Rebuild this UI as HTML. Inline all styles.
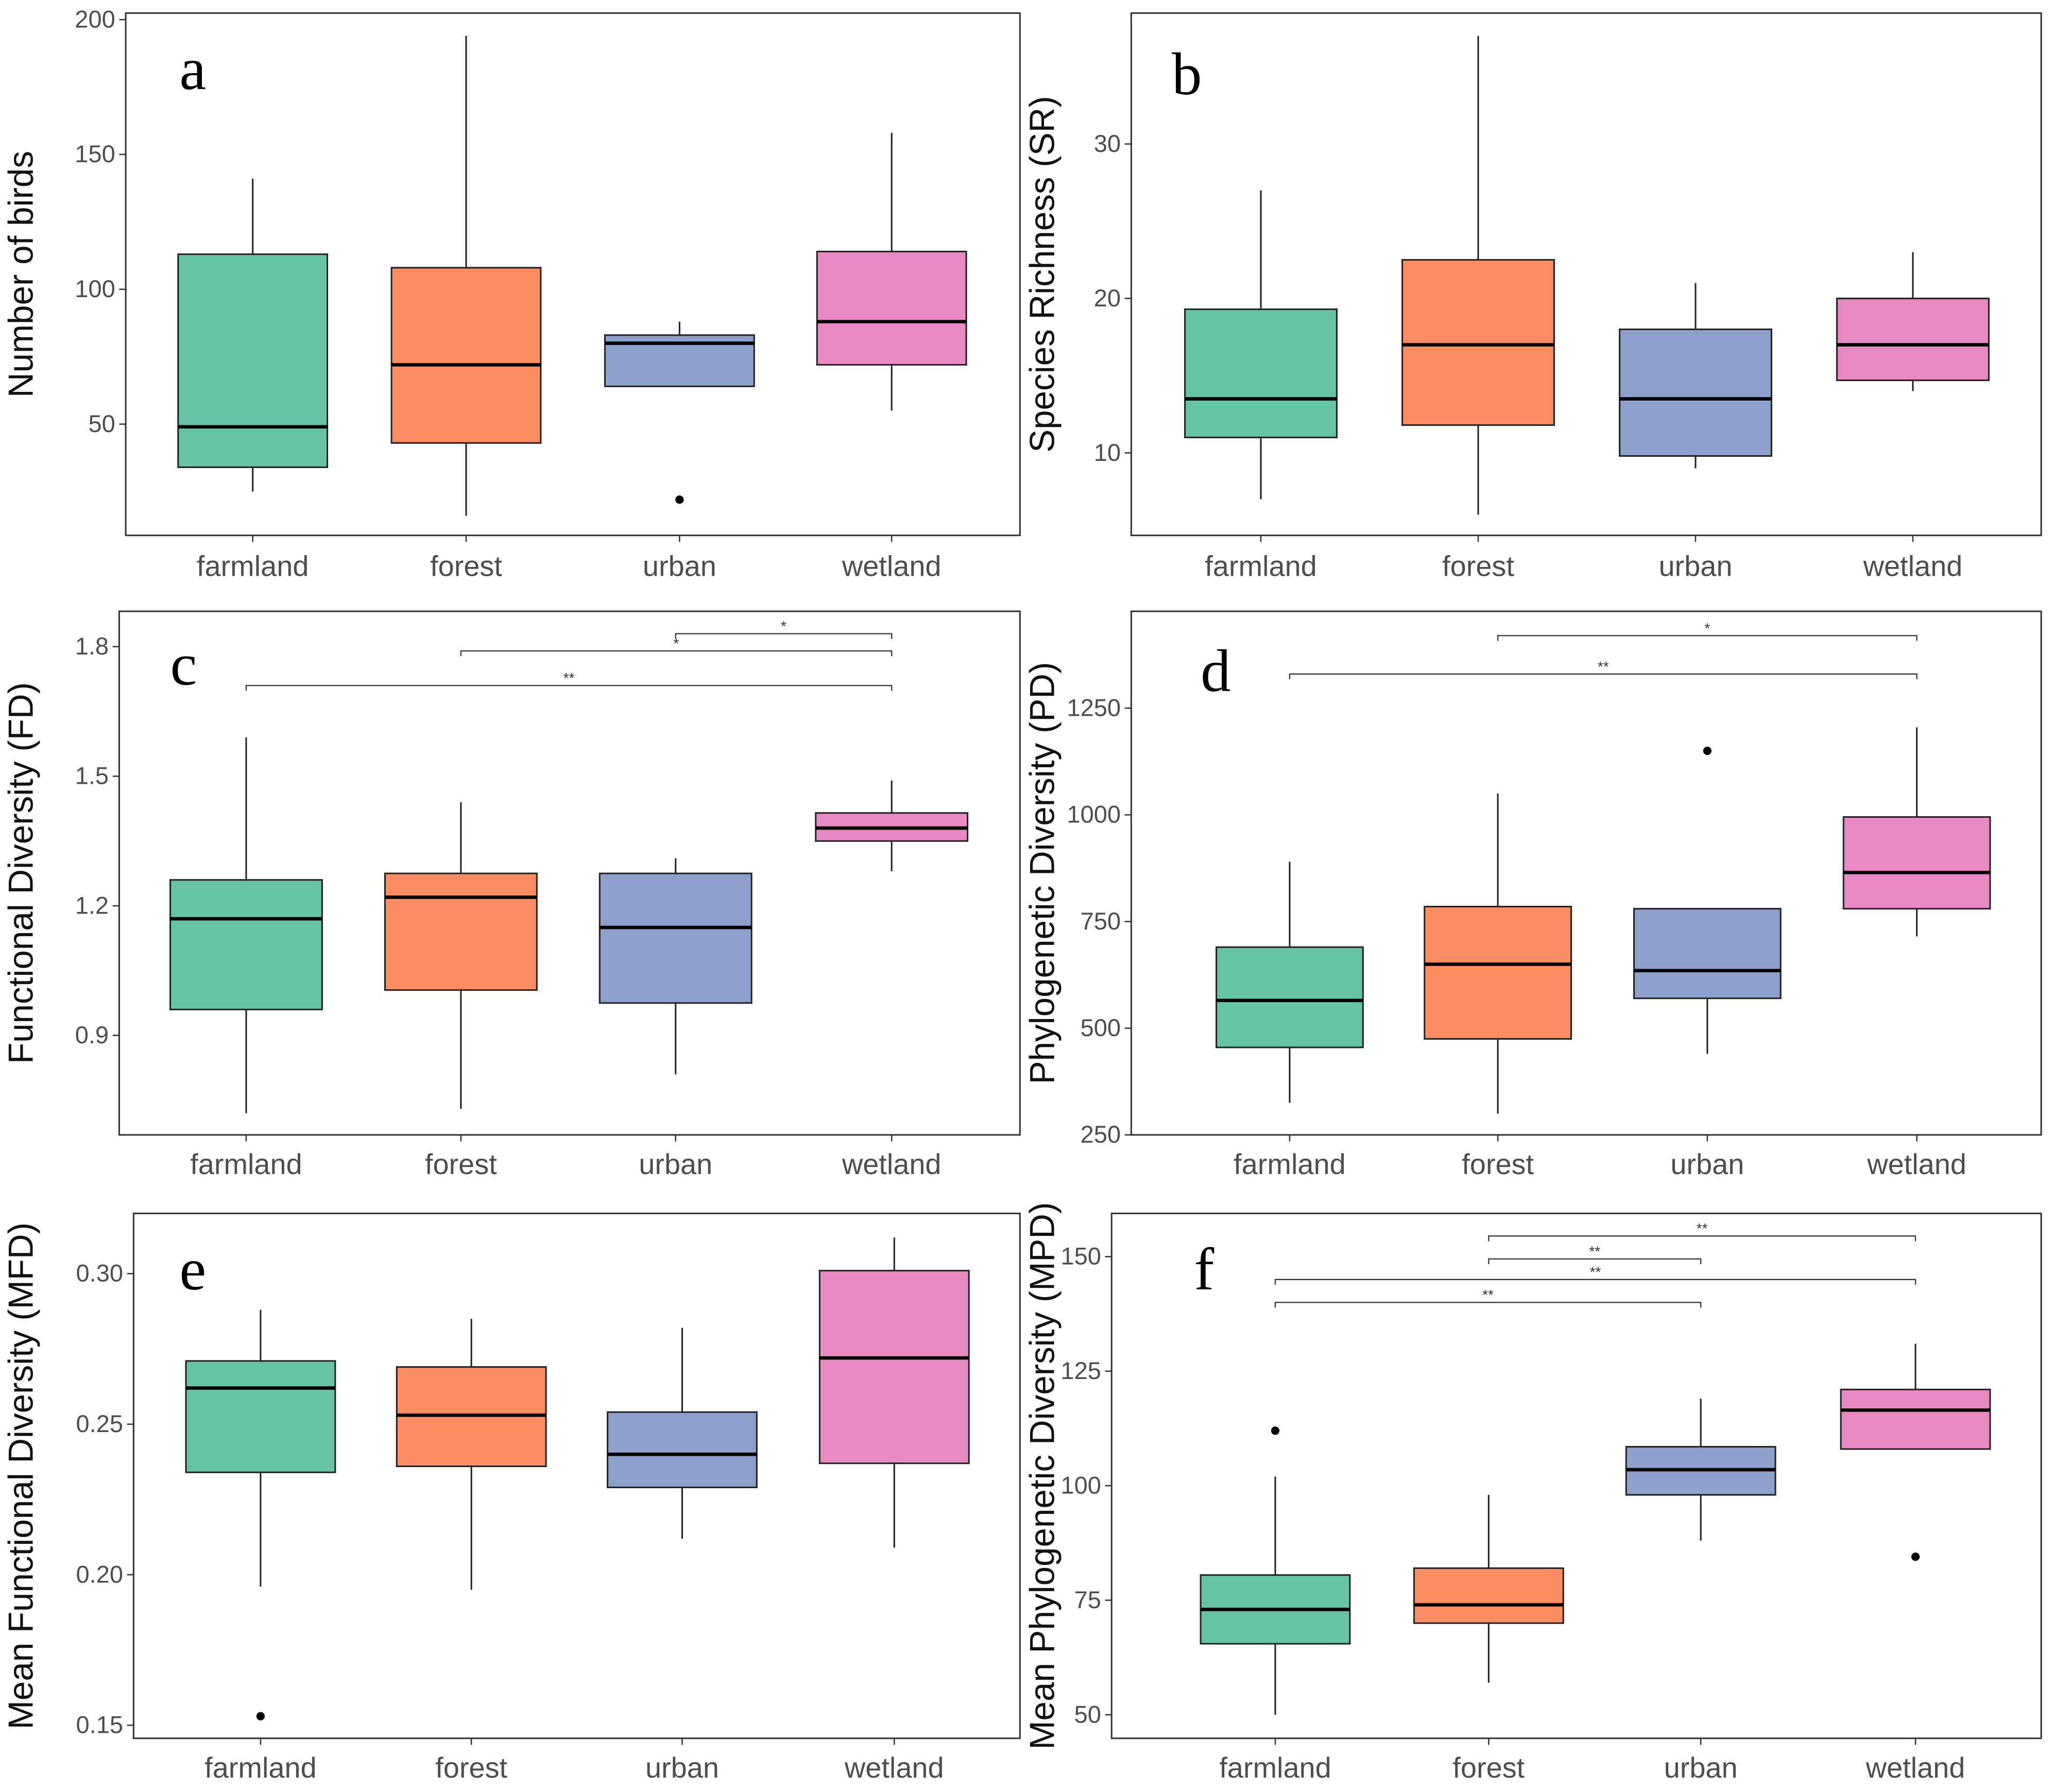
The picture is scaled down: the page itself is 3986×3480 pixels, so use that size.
<!DOCTYPE html>
<html><head><meta charset="utf-8">
<style>
html,body{margin:0;padding:0;background:#fff;}
svg{display:block;}
text{font-family:"Liberation Sans",sans-serif;}
</style></head>
<body>
<svg id="chart" width="3986" height="3480" viewBox="0 0 1568 1369" xmlns="http://www.w3.org/2000/svg"></svg>
<script>
const categories = ["farmland","forest","urban","wetland"];
const colors = ["#66c2a5","#fc8d62","#8da0cb","#e78ac3"];
// each stat: [low whisker, Q1, median, Q3, high whisker]
const statsA = [[25,34,49,113,141],[16,43,72,108,194],[64,64,80,83,88],[55,72,88,114,158]];
const outliersA = [[],[],[22],[]];
const ticksA = [50,100,150,200];
const statsB = [[7,11,13.5,19.3,27],[6,11.8,17,22.5,37],[9,9.8,13.5,18,21],[14,14.7,17,20,23]];
const outliersB = [[],[],[],[]];
const ticksB = [10,20,30];
const statsC = [[0.72,0.96,1.17,1.26,1.59],[0.73,1.005,1.22,1.275,1.44],[0.81,0.975,1.15,1.275,1.31],[1.28,1.35,1.38,1.415,1.49]];
const outliersC = [[],[],[],[]];
const ticksC = [0.9,1.2,1.5,1.8];
const tickLabelsC = ["0.9","1.2","1.5","1.8"];
const sigC = [[0,3,1.71,"**"],[1,3,1.79,"*"],[2,3,1.83,"*"]];
const statsD = [[325,455,565,690,890],[300,475,650,785,1050],[440,570,635,780,780],[715,780,865,995,1205]];
const outliersD = [[],[],[1150],[]];
const ticksD = [250,500,750,1000,1250];
const sigD = [[0,3,1330,"**"],[1,3,1420,"*"]];
const statsE = [[0.196,0.234,0.262,0.271,0.288],[0.195,0.236,0.253,0.269,0.285],[0.212,0.229,0.240,0.254,0.282],[0.209,0.237,0.272,0.301,0.312]];
const outliersE = [[0.153],[],[],[]];
const ticksE = [0.15,0.20,0.25,0.30];
const tickLabelsE = ["0.15","0.20","0.25","0.30"];
const statsF = [[50,65.5,73,80.5,102],[57,70,74,82,98],[88,98,103.5,108.5,119],[108,108,116.5,121,131]];
const outliersF = [[112],[],[],[84.5]];
const ticksF = [50,75,100,125,150];
const sigF = [[0,2,140,"**"],[0,3,145,"**"],[1,2,149.5,"**"],[1,3,154.5,"**"]];

const NS="http://www.w3.org/2000/svg";
const svg=document.getElementById('chart');
function el(tag,attrs,parent){const e=document.createElementNS(NS,tag);for(const k in attrs)e.setAttribute(k,attrs[k]);(parent||svg).appendChild(e);return e;}

const panels=[
 {id:'a',x0:96,x1:779,y0:10,y1:409,xs:[193,356,519,681],bw:114,v0:50,p0:324,v1:200,p1:15,stats:statsA,out:outliersA,ticks:ticksA,labels:null,title:"Number of birds",letter:[137,68],tx:25,xl:440,sig:[]},
 {id:'b',x0:864,x1:1559,y0:10,y1:409,xs:[963,1129,1295,1461],bw:116,v0:10,p0:346,v1:30,p1:110,stats:statsB,out:outliersB,ticks:ticksB,labels:null,title:"Species Richness (SR)",letter:[895,72],tx:805,xl:440,sig:[]},
 {id:'c',x0:91,x1:779,y0:467,y1:867,xs:[188,352,516,681],bw:116,v0:0.9,p0:791,v1:1.8,p1:494,stats:statsC,out:outliersC,ticks:ticksC,labels:tickLabelsC,title:"Functional Diversity (FD)",letter:[130,523],tx:25,xl:897,sig:sigC},
 {id:'d',x0:864,x1:1559,y0:467,y1:867,xs:[985,1144,1304,1464],bw:112,v0:250,p0:867,v1:1250,p1:541,stats:statsD,out:outliersD,ticks:ticksD,labels:null,title:"Phylogenetic Diversity (PD)",letter:[917,528],tx:805,xl:897,sig:sigD},
 {id:'e',x0:102,x1:779,y0:927,y1:1328,xs:[199,360,521,683],bw:114,v0:0.15,p0:1318,v1:0.30,p1:973,stats:statsE,out:outliersE,ticks:ticksE,labels:tickLabelsE,title:"Mean Functional Diversity (MFD)",letter:[137,985],tx:25,xl:1358,sig:[]},
 {id:'f',x0:849,x1:1559,y0:927,y1:1328,xs:[974,1137,1299,1463],bw:114,v0:50,p0:1310,v1:150,p1:960,stats:statsF,out:outliersF,ticks:ticksF,labels:null,title:"Mean Phylogenetic Diversity (MPD)",letter:[912,985],tx:805,xl:1358,sig:sigF}
];

panels.forEach(P=>{
 const g=el('g',{});
 
 
 const Y=v=>P.p0+(v-P.v0)*(P.p1-P.p0)/(P.v1-P.v0);
 const frame=el('rect',{x:P.x0,y:P.y0,width:P.x1-P.x0,height:P.y1-P.y0,fill:'none',stroke:'#333',"stroke-width":1.2},g);
 
 
 P.ticks.forEach((t,i)=>{
  const y=Y(t);
  el('line',{x1:P.x0-5,x2:P.x0,y1:y,y2:y,stroke:'#333'},g);
  const tl=el('text',{x:P.x0-8,y:y+6,"text-anchor":"end","font-size":18.5,fill:'#4d4d4d'},g);
  tl.textContent=P.labels?P.labels[i]:String(t);
  
  
 });
 categories.forEach((c,i)=>{
  const x=P.xs[i], s=P.stats[i], h=P.bw/2;
  el('line',{x1:x,x2:x,y1:P.y1,y2:P.y1+5,stroke:'#333'},g);
  const xl=el('text',{x:x,y:P.xl,"text-anchor":"middle","font-size":22,fill:'#4d4d4d'},g);
  xl.textContent=c;
  
  
  el('line',{x1:x,x2:x,y1:Y(s[0]),y2:Y(s[1]),stroke:'#222',"stroke-width":1.2},g);
  el('line',{x1:x,x2:x,y1:Y(s[3]),y2:Y(s[4]),stroke:'#222',"stroke-width":1.2},g);
  const b=el('rect',{x:x-h,y:Y(s[3]),width:P.bw,height:Y(s[1])-Y(s[3]),fill:colors[i],stroke:'#222',"stroke-width":1.2},g);
  
  
  el('line',{x1:x-h,x2:x+h,y1:Y(s[2]),y2:Y(s[2]),stroke:'#000',"stroke-width":2.6},g);
  P.out[i].forEach(o=>{
   const d=el('circle',{cx:x,cy:Y(o),r:3.2,fill:'#000'},g);
   
   
  });
 });
 P.sig.forEach(sg=>{
  const xa=P.xs[sg[0]], xb=P.xs[sg[1]], y=Y(sg[2]);
  const pth=el('path',{d:`M${xa} ${y+4}V${y}H${xb}V${y+4}`,fill:'none',stroke:'#333',"stroke-width":0.9},g);
  
  
  const st=el('text',{x:(xa+xb)/2,y:y-2,"text-anchor":"middle","font-size":11,fill:'#333'},g);
  st.textContent=sg[3];
  
  
 });
 const ym=(P.y0+P.y1)/2;
 const t=el('text',{x:P.tx,y:ym,"text-anchor":"middle","font-size":26.5,fill:'#111',transform:`rotate(-90 ${P.tx} ${ym})`},g);
 t.textContent=P.title;
 
 
 const L=el('text',{x:P.letter[0],y:P.letter[1],"font-size":46,fill:'#000',style:'font-family:"Liberation Serif",serif'},g);
 L.textContent=P.id;
 
 
});
</script>
</body></html>
